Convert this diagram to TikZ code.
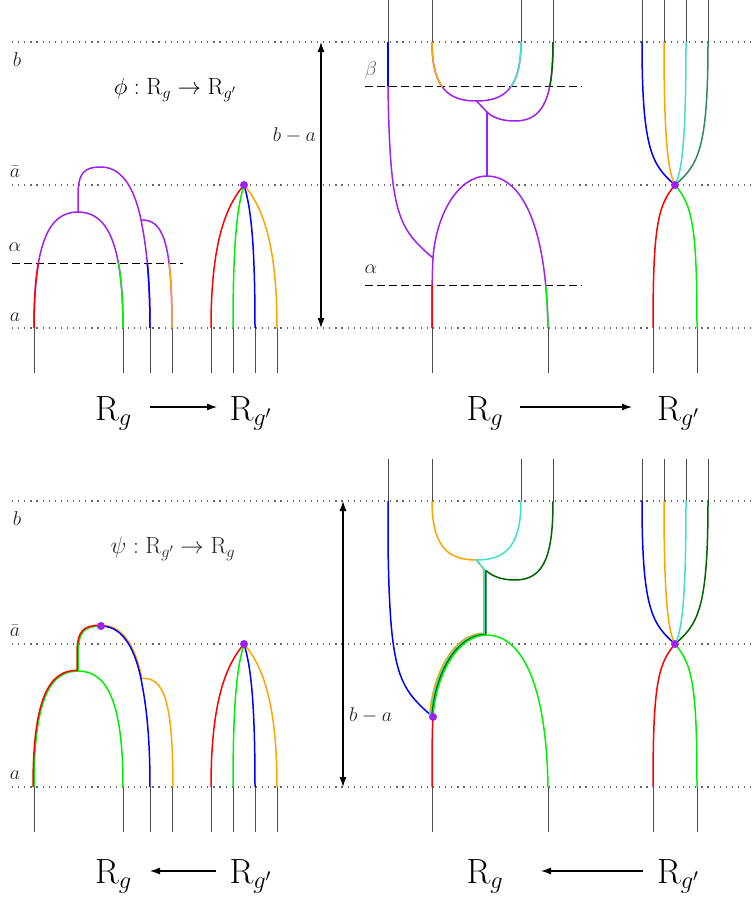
\RequirePackage{fix-cm}
\documentclass[tikz,border=0pt]{standalone}
\usetikzlibrary{arrows.meta}
\definecolor{purp}{RGB}{160,32,240}
\definecolor{orng}{RGB}{255,165,0}
\definecolor{cyn}{RGB}{64,224,208}
\definecolor{grn}{RGB}{0,240,0}
\definecolor{dgrn}{RGB}{0,100,0}
\definecolor{sgrn}{RGB}{46,139,87}
\begin{document}
\begin{tikzpicture}[x=1pt,y=-1pt,
  strand/.style={line width=1.5pt},
  stub/.style={line width=1pt,draw=black!70},
  dotline/.style={draw=black!60,line width=1.2pt,dash pattern=on 1.2pt off 4.9pt},
  dashline/.style={draw=black,line width=0.9pt,dash pattern=on 8pt off 4pt},
  lbl/.style={font=\fontsize{20}{24}\selectfont,text=black!85,inner sep=0pt},
  ttl/.style={font=\fontsize{23.5}{28}\selectfont,inner sep=0pt},
  big/.style={font=\fontsize{35}{40}\selectfont,inner sep=0pt},
  arr/.style={line width=1.1pt,-{Latex[length=10pt,width=7pt]}},
  darr/.style={line width=1.1pt,{Latex[length=10pt,width=7pt]}-{Latex[length=10pt,width=7pt]}},
  vdot/.style={circle,fill=purp,inner sep=0pt,minimum size=8pt}]
\useasboundingbox (0,0) rectangle (753,905);

% ================= TOP PANEL =================
\foreach \y in {42,185,328} {\draw[dotline] (12,\y) -- (753,\y);}
\draw[dashline] (12,263) -- (183,263);
\draw[dashline] (365,86) -- (582,86);
\draw[dashline] (365,285) -- (582,285);
\foreach \x in {34,123,150,172,211,233,255,277,432,548,653,697} {\draw[stub] (\x,328) -- (\x,373);}
\foreach \x in {388,432,521,553,642,664,686,708} {\draw[stub] (\x,0) -- (\x,42);}

% --- top left: R_g
\draw[strand,purp] (34,328) .. controls (34,240) and (50,212) .. (78,212) .. controls (106,212) and (123,240) .. (123,328);
\draw[strand,purp] (78,212) -- (78,195) .. controls (78,172) and (85,167) .. (101,167) .. controls (125,167) and (136,195) .. (141,220) .. controls (145,240) and (150,270) .. (150,328);
\draw[strand,purp] (141,220) .. controls (163,219) and (172,242) .. (172,328);
\begin{scope}
\clip (0,263) rectangle (200,340);
\draw[strand,red] (34,328) .. controls (34,240) and (50,212) .. (78,212);
\draw[strand,grn] (78,212) .. controls (106,212) and (123,240) .. (123,328);
\draw[strand,blue] (141,220) .. controls (145,240) and (150,270) .. (150,328);
\draw[strand,orng] (141,220) .. controls (163,219) and (172,242) .. (172,328);
\end{scope}

% --- top left: R_g'
\draw[strand,red] (211,328) .. controls (211,245) and (225,207) .. (244,185);
\draw[strand,grn] (233,328) .. controls (233,235) and (238,205) .. (244,185);
\draw[strand,blue] (255,328) .. controls (255,235) and (250,205) .. (244,185);
\draw[strand,orng] (277,328) .. controls (277,245) and (263,207) .. (244,185);
\node[vdot] (v1) at (244,185) {};

% --- top right: R_g
\draw[strand,purp] (388,42) -- (388,86) .. controls (390,215) and (398,228) .. (433,258);
\draw[strand,purp] (432,42) .. controls (432,90) and (450,101) .. (476.5,101) .. controls (503,101) and (521,90) .. (521,42);
\draw[strand,purp] (553,42) .. controls (553,95) and (545,121) .. (515,121) .. controls (503,121) and (493,118) .. (487,112) -- (476.5,101);
\draw[strand,purp] (487,112) -- (487,176);
\draw[strand,purp] (432,328) .. controls (432,300) and (432,275) .. (433,258) .. controls (436,215) and (458,176) .. (487,176) .. controls (515,176) and (546,210) .. (548,328);
\begin{scope}
\clip (360,0) rectangle (600,86);
\draw[strand,blue] (388,42) -- (388,86);
\draw[strand,orng] (432,42) .. controls (432,90) and (450,101) .. (476.5,101);
\draw[strand,cyn] (476.5,101) .. controls (503,101) and (521,90) .. (521,42);
\draw[strand,dgrn] (553,42) .. controls (553,95) and (545,121) .. (515,121);
\end{scope}
\begin{scope}
\clip (360,285) rectangle (600,340);
\draw[strand,red] (432,328) .. controls (432,300) and (432,275) .. (433,258);
\draw[strand,grn] (487,176) .. controls (515,176) and (546,210) .. (548,328);
\end{scope}

% --- top right: R_g'
\draw[strand,blue] (642,42) .. controls (642,150) and (652,165) .. (675,185);
\draw[strand,orng] (664,42) .. controls (664,140) and (668,172) .. (675,185);
\draw[strand,cyn] (686,42) .. controls (686,140) and (682,172) .. (675,185);
\draw[strand,sgrn] (708,42) .. controls (708,150) and (698,165) .. (675,185);
\draw[strand,red] (675,185) .. controls (658,205) and (653,225) .. (653,328);
\draw[strand,grn] (675,185) .. controls (692,205) and (697,225) .. (697,328);
\node[vdot] (v2) at (675,185) {};

% ================= BOTTOM PANEL =================
\begin{scope}[shift={(0,459)}]
\foreach \y in {42,185,328} {\draw[dotline] (12,\y) -- (753,\y);}
\foreach \x in {34,123,150,172,211,233,255,277,432,548,653,697} {\draw[stub] (\x,328) -- (\x,373);}
\foreach \x in {388,432,521,553,642,664,686,708} {\draw[stub] (\x,0) -- (\x,42);}

% --- bottom left: R_g
\draw[strand,grn] (34,328) .. controls (34,240) and (50,212) .. (78,212) .. controls (106,212) and (123,240) .. (123,328);
\draw[strand,grn] (78,212) -- (78,195) .. controls (78,172) and (85,167) .. (101,167);
\draw[strand,red,shift={(-1,-0.7)}] (34,328.7) .. controls (34,240) and (50,212) .. (78,212) -- (78,195) .. controls (78,172) and (85,167) .. (101,167);
\draw[strand,orng,shift={(0.9,-0.7)}] (101,167) .. controls (125,167) and (136,195) .. (141,220) .. controls (163,219) and (172,242) .. (172,328.7);
\draw[strand,blue] (101,167) .. controls (125,167) and (136,195) .. (141,220) .. controls (145,240) and (150,270) .. (150,328);
\node[vdot] (v3) at (101,167) {};

% --- bottom left: R_g'
\draw[strand,red] (211,328) .. controls (211,245) and (225,207) .. (244,185);
\draw[strand,grn] (233,328) .. controls (233,235) and (238,205) .. (244,185);
\draw[strand,blue] (255,328) .. controls (255,235) and (250,205) .. (244,185);
\draw[strand,orng] (277,328) .. controls (277,245) and (263,207) .. (244,185);
\node[vdot] (v4) at (244,185) {};

% --- bottom right: R_g
\draw[strand,blue] (388,42) -- (388,86) .. controls (390,215) and (398,228) .. (433,258);
\draw[strand,red] (433,258) .. controls (432,275) and (432,300) .. (432,328);
\draw[strand,orng] (432,42) .. controls (432,90) and (450,101) .. (476.5,101) -- (483.7,110.2);
\draw[strand,cyn] (521,42) .. controls (521,90) and (503,101) .. (476.5,101) -- (484.8,110.8);
\draw[strand,dgrn] (553,42) .. controls (553,95) and (545,121) .. (515,121) .. controls (503,121) and (493,118) .. (485.9,111.4);
\draw[strand,orng,shift={(-3.3,-1.8)}] (487,112) -- (487,176) .. controls (458,176) and (436,215) .. (433,258);
\draw[strand,cyn,shift={(-2.2,-1.2)}] (487,112) -- (487,176) .. controls (458,176) and (436,215) .. (433,258);
\draw[strand,dgrn,shift={(-1.1,-0.6)}] (487,112) -- (487,176) .. controls (458,176) and (436,215) .. (433,258);
\draw[strand,grn] (433,258) .. controls (436,215) and (458,176) .. (487,176) .. controls (515,176) and (546,210) .. (548,328);
\node[vdot] (v5) at (433,258) {};

% --- bottom right: R_g'
\draw[strand,blue] (642,42) .. controls (642,150) and (652,165) .. (675,185);
\draw[strand,orng] (664,42) .. controls (664,140) and (668,172) .. (675,185);
\draw[strand,cyn] (686,42) .. controls (686,140) and (682,172) .. (675,185);
\draw[strand,dgrn] (708,42) .. controls (708,150) and (698,165) .. (675,185);
\draw[strand,red] (675,185) .. controls (658,205) and (653,225) .. (653,328);
\draw[strand,grn] (675,185) .. controls (692,205) and (697,225) .. (697,328);
\node[vdot] (v6) at (675,185) {};
\end{scope}

% ================= LABELS =================
\node[lbl] (lb1) at (17,60) {$b$};
\node[lbl] (lab1) at (15,172) {$\bar a$};
\node[lbl] (lal1) at (15,247) {$\alpha$};
\node[lbl] (la1) at (15,317) {$a$};
\node[lbl,text=black!65] (lbeta) at (371,70) {$\beta$};
\node[lbl] (lal2) at (371,269) {$\alpha$};
\node[ttl] (t1) at (175,90) {$\phi:\mathrm{R}_g\to\mathrm{R}_{g'}$};
\node[lbl,anchor=east] (ba1) at (316,135) {$b-a$};
\coordinate (d1t) at (321,42);
\coordinate (d1b) at (321,328);
\draw[darr] (d1b) -- (d1t);
\node[big,anchor=base] (r1) at (113.5,420) {$\mathrm{R}_g$};
\node[big,anchor=base] (r2) at (250.5,420) {$\mathrm{R}_{g'}$};
\coordinate (a1s) at (150,407);
\coordinate (a1e) at (217,407);
\draw[arr] (a1s) -- (a1e);
\node[big,anchor=base] (r3) at (485,420) {$\mathrm{R}_g$};
\node[big,anchor=base] (r4) at (678,420) {$\mathrm{R}_{g'}$};
\coordinate (a2s) at (520,407);
\coordinate (a2e) at (632,407);
\draw[arr] (a2s) -- (a2e);

\node[lbl] (lb2) at (17,519) {$b$};
\node[lbl] (lab2) at (15,631) {$\bar a$};
\node[lbl] (la2) at (15,775) {$a$};
\node[ttl,text=black!85] (t2) at (173,549) {$\psi:\mathrm{R}_{g'}\to\mathrm{R}_g$};
\node[lbl,anchor=west] (ba2) at (349,715) {$b-a$};
\coordinate (d2t) at (343,501);
\coordinate (d2b) at (343,787);
\draw[darr] (d2b) -- (d2t);
\node[big,anchor=base] (r5) at (113.5,883) {$\mathrm{R}_g$};
\node[big,anchor=base] (r6) at (250.5,883) {$\mathrm{R}_{g'}$};
\coordinate (a3s) at (216,871);
\coordinate (a3e) at (150,871);
\draw[arr] (a3s) -- (a3e);
\node[big,anchor=base] (r7) at (485,883) {$\mathrm{R}_g$};
\node[big,anchor=base] (r8) at (678,883) {$\mathrm{R}_{g'}$};
\coordinate (a4s) at (643,871);
\coordinate (a4e) at (541,871);
\draw[arr] (a4s) -- (a4e);
\end{tikzpicture}
\end{document}
